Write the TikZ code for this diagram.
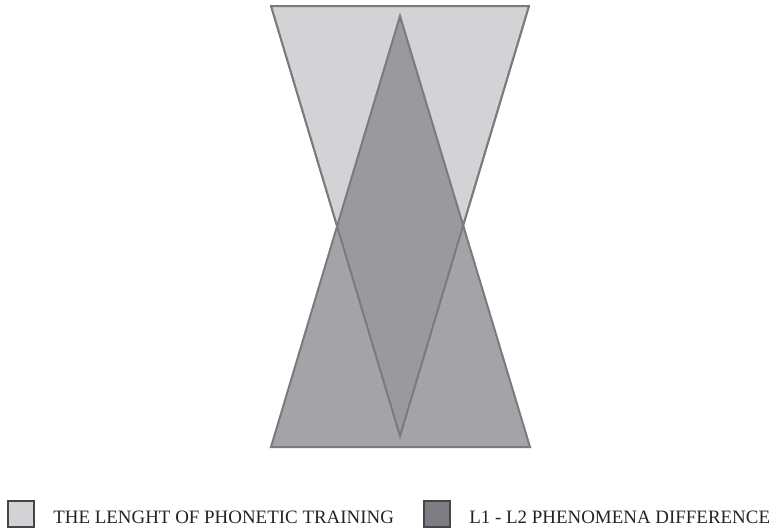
\documentclass[tikz,border=0pt]{standalone}
\usepackage{fontspec}
\setmainfont{Liberation Serif}
\usetikzlibrary{positioning}
\definecolor{lgray}{RGB}{211,211,213}
\definecolor{dgray}{RGB}{136,136,142}
\definecolor{edgegray}{RGB}{122,122,127}
\definecolor{keyedge}{RGB}{70,70,72}
\definecolor{txt}{RGB}{35,35,35}

\begin{document}
\begin{tikzpicture}[x=0.75pt,y=-0.75pt]
  \useasboundingbox (0,0) rectangle (781,529);
  % inverted triangle: length of training
  \coordinate (tl) at (271,6);
  \coordinate (tr) at (529,6);
  \coordinate (tb) at (400,436);
  \filldraw[fill=lgray,draw=edgegray,line width=1.5pt,line join=miter] (tl) -- (tr) -- (tb) -- cycle;
  % upright triangle: L1 - L2 difference
  \coordinate (ua) at (400,16);
  \coordinate (ul) at (271,447);
  \coordinate (ur) at (530,447);
  \fill[dgray,fill opacity=0.77] (ua) -- (ur) -- (ul) -- cycle;
  \draw[edgegray,line width=1.5pt] (ua) -- (ur) -- (ul) -- cycle;
  \draw[edgegray,line width=1.2pt] (tr) -- (tb) -- (tl);
  % legend
  \foreach \x/\nm/\col/\lbl in {
    7/one/lgray/{THE LENGHT OF PHONETIC TRAINING},
    423/two/dgray!92!black/{L1 - L2 PHENOMENA DIFFERENCE}
  }{
    \node[draw=keyedge,line width=1.5pt,fill=\col,minimum size=19.5pt,inner sep=0pt,anchor=north west]
      (key\nm) at (\x,500) {};
    \node[anchor=base west,inner sep=0pt,font=\fontsize{14.2}{16}\selectfont,text=txt]
      (lbl\nm) at (\x+46,523) {\lbl};
  }
\end{tikzpicture}
\end{document}
